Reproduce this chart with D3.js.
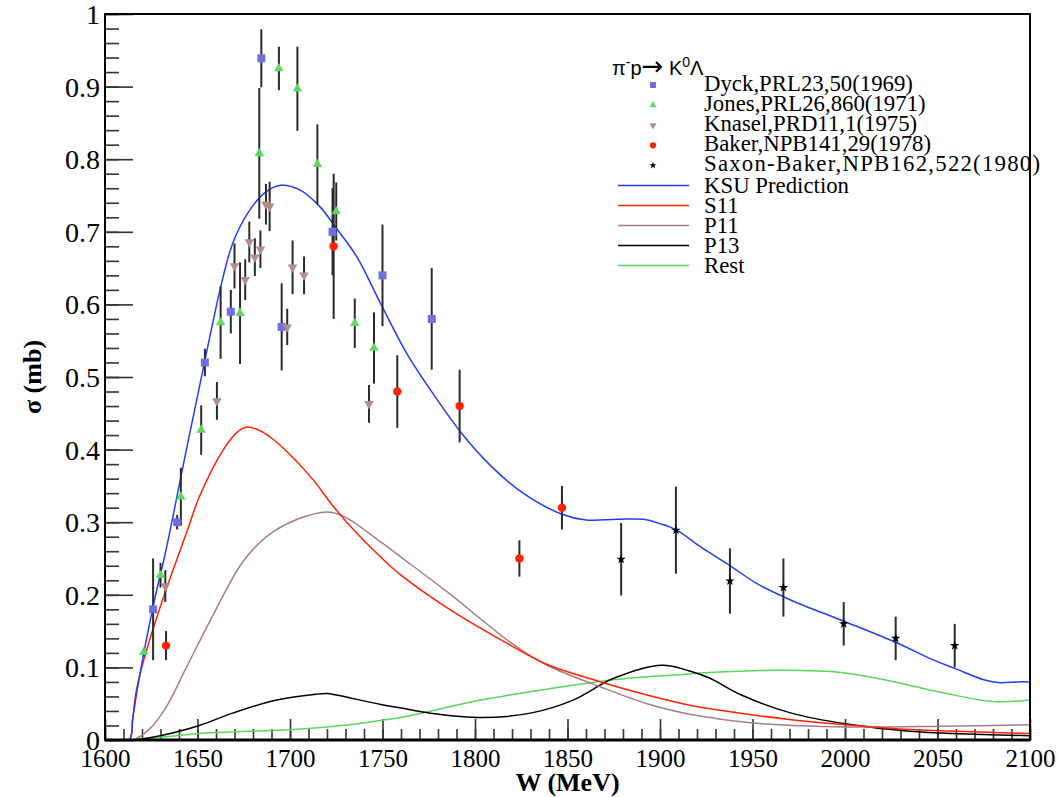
<!DOCTYPE html>
<html>
<head>
<meta charset="utf-8">
<script src="https://cdn.jsdelivr.net/npm/d3@7"></script>
<style>
  body { margin: 0; background: #fff; }
  svg text { font-family: "Liberation Serif", "Times New Roman", serif; }
</style>
</head>
<body>
<div id="chart"></div>
<script>
// data points [W (MeV), sigma (mb), error]
const dyck = [[1626,0.18,0.07],[1639,0.30,0.01],[1654,0.52,0.019],[1668,0.59,0.03],[1684.5,0.939,0.04],
  [1695.5,0.569,0.06],[1723,0.70,0.06],[1750,0.64,0.07],[1776.6,0.58,0.07]];
const jones = [[1621,0.121,0.006],[1630,0.227,0.017],[1641,0.335,0.04],[1652,0.427,0.034],[1662.5,0.575,0.05],
  [1673,0.588,0.07],[1683.4,0.808,0.09],[1694,0.925,0.03],[1704,0.897,0.058],[1714.8,0.793,0.055],
  [1725,0.728,0.04],[1735,0.574,0.034],[1745.4,0.54,0.049]];
const knasel = [[1632.6,0.212,0.022],[1660.5,0.467,0.026],[1670,0.653,0.031],[1675.8,0.634,0.028],[1678,0.686,0.028],
  [1681,0.665,0.026],[1684,0.676,0.026],[1687,0.738,0.028],[1689,0.735,0.034],[1698.5,0.569,0.025],
  [1701.4,0.651,0.037],[1707.6,0.640,0.026],[1742.7,0.463,0.026]];
const baker = [[1633,0.13,0.02],[1723.6,0.68,0.1],[1758,0.48,0.05],[1791.7,0.46,0.05],[1824,0.25,0.025],[1847,0.32,0.03]];
const saxon = [[1879,0.249,0.05],[1908.6,0.289,0.06],[1937.8,0.219,0.045],[1966.7,0.21,0.04],
  [1999.3,0.16,0.03],[2027.4,0.14,0.03],[2059.3,0.13,0.03]];

// model curves [W, sigma]
const ksu = [[1600,0],[1613,0],[1615,0.03],[1618,0.078],[1626,0.184],[1633,0.262],[1644,0.40],[1654,0.523],
  [1663,0.629],[1669,0.684],[1677,0.725],[1686,0.753],[1695,0.764],[1705,0.758],[1716,0.735],[1725,0.705],
  [1736,0.666],[1749,0.601],[1763,0.533],[1776,0.482],[1792,0.425],[1808,0.379],[1826,0.340],[1847,0.311],
  [1860,0.303],[1877,0.304],[1891,0.304],[1900,0.298],[1909,0.289],[1922,0.266],[1938,0.240],[1952,0.216],
  [1967,0.197],[1976,0.187],[1999,0.164],[2027,0.135],[2048,0.110],[2059,0.099],[2075,0.083],[2084,0.079],
  [2093,0.080],[2100,0.080]];
const s11 = [[1600,0],[1613,0],[1615,0.03],[1617,0.069],[1622.5,0.124],[1633,0.207],[1644,0.285],[1651,0.335],
  [1664,0.40],[1672,0.425],[1677,0.431],[1683,0.427],[1690,0.416],[1698,0.398],[1712,0.36],[1723,0.323],
  [1736,0.285],[1749,0.252],[1760,0.227],[1785,0.182],[1821,0.128],[1839,0.104],[1868,0.080],[1893,0.062],
  [1916,0.048],[1927,0.043],[1971,0.028],[2000,0.021],[2025,0.016],[2060,0.012],[2100,0.009]];
const p11 = [[1600,0],[1615,0],[1624,0.015],[1633,0.045],[1644,0.10],[1657,0.165],[1673,0.240],[1682,0.268],
  [1691,0.287],[1705,0.305],[1720,0.314],[1729,0.308],[1749,0.273],[1760,0.252],[1785,0.204],[1821,0.131],
  [1839,0.103],[1868,0.073],[1893,0.050],[1916,0.0355],[1927,0.031],[1952,0.023],[2001,0.018],[2053,0.019],
  [2100,0.021]];
const p13 = [[1600,0],[1615,0],[1624,0.003],[1637,0.01],[1651,0.02],[1669,0.037],[1691,0.054],[1714,0.063],
  [1720,0.064],[1725,0.062],[1749,0.049],[1760,0.044],[1776,0.037],[1804,0.031],[1830,0.037],[1853,0.055],
  [1875,0.085],[1901,0.103],[1916,0.095],[1927,0.085],[1944,0.062],[1971,0.037],[2001,0.022],[2035,0.012],
  [2100,0.006]];
const rest = [[1600,0],[1615,0],[1624,0.002],[1651,0.009],[1678,0.012],[1700,0.014],[1732,0.021],[1749,0.027],
  [1760,0.031],[1803,0.055],[1839,0.070],[1875,0.083],[1916,0.091],[1927,0.093],[1967,0.096],[1998,0.093],
  [2025,0.081],[2053,0.065],[2080,0.053],[2100,0.055]];

const xTicks = d3.range(1600, 2101, 50);
const yTicks = d3.range(0, 1.001, 0.1);

const width = 1060, height = 797;
const padL = 105, padR = 1030, padT = 14, padB = 740;

const svg = d3.select('#chart').append('svg')
  .attr('width', width).attr('height', height);

const x = d3.scaleLinear().domain([1600, 2100]).range([padL, padR]);
const y = d3.scaleLinear().domain([0, 1]).range([padB, padT]);

svg.append('clipPath').attr('id', 'plotclip')
  .append('rect').attr('x', padL).attr('y', padT).attr('width', padR - padL).attr('height', padB - padT);

// axes: minor + major ticks, drawn inward like ROOT
const xMinor = svg.append('g').attr('transform', `translate(0,${padB})`)
  .call(d3.axisBottom(x).tickValues(d3.range(1600, 2101, 10)).tickSize(-11).tickFormat(''));
const xMajor = svg.append('g').attr('transform', `translate(0,${padB})`)
  .call(d3.axisBottom(x).tickValues(xTicks).tickSize(-21).tickPadding(9).tickFormat(d3.format('d')));
const yMinor = svg.append('g').attr('transform', `translate(${padL},0)`)
  .call(d3.axisLeft(y).tickValues(d3.range(0, 1.001, 0.02)).tickSize(-14).tickFormat(''));
const yMajor = svg.append('g').attr('transform', `translate(${padL},0)`)
  .call(d3.axisLeft(y).tickValues(yTicks).tickSize(-28).tickPadding(5).tickFormat(d => String(+d.toFixed(1))));

[xMinor, xMajor, yMinor, yMajor].forEach(g => {
  g.attr('font-family', null);
  g.select('.domain').remove();
  g.selectAll('.tick line').attr('stroke', '#333').attr('stroke-width', 1.6);
});
xMajor.selectAll('.tick text').attr('font-size', 25).attr('fill', '#000');
yMajor.selectAll('.tick text').attr('font-size', 28).attr('fill', '#000').attr('dy', '0.34em');

// curves
const line = d3.line().x(d => x(d[0])).y(d => y(d[1])).curve(d3.curveCatmullRom.alpha(0.5));
const curves = [
  { data: rest, color: '#5cd65c' },
  { data: p13, color: '#000000' },
  { data: p11, color: '#a47f82' },
  { data: s11, color: '#ff2200' },
  { data: ksu, color: '#1f3ff5' }
];
const curveG = svg.append('g').attr('clip-path', 'url(#plotclip)');
curves.forEach(c => {
  curveG.append('path').attr('d', line(c.data))
    .attr('fill', 'none').attr('stroke', c.color).attr('stroke-width', 1.5);
});

// data sets with error bars
const sets = [
  { data: dyck, type: d3.symbolSquare, size: 64, color: '#6f6fe0', rot: 0 },
  { data: jones, type: d3.symbolTriangle, size: 40, color: '#5fd85f', rot: 0 },
  { data: knasel, type: d3.symbolTriangle, size: 40, color: '#b38c8c', rot: 180 },
  { data: baker, type: d3.symbolCircle, size: 56, color: '#ff2200', rot: 0 },
  { data: saxon, type: d3.symbolStar, size: 28, color: '#000000', rot: 0 }
];
const dataG = svg.append('g');
sets.forEach(s => {
  dataG.selectAll(null).data(s.data).enter().append('line')
    .attr('x1', d => x(d[0])).attr('x2', d => x(d[0]))
    .attr('y1', d => y(d[1] - d[2])).attr('y2', d => y(d[1] + d[2]))
    .attr('stroke', '#2a2a2a').attr('stroke-width', 2);
});
sets.forEach(s => {
  dataG.selectAll(null).data(s.data).enter().append('path')
    .attr('d', d3.symbol().type(s.type).size(s.size))
    .attr('transform', d => `translate(${x(d[0])},${y(d[1])}) rotate(${s.rot})`)
    .attr('fill', s.color);
});

// frame
svg.append('rect').attr('x', padL).attr('y', padT).attr('width', padR - padL).attr('height', padB - padT)
  .attr('fill', 'none').attr('stroke', '#000').attr('stroke-width', 2);
svg.append('line').attr('x1', padL).attr('x2', padR).attr('y1', padB).attr('y2', padB)
  .attr('stroke', '#000').attr('stroke-width', 3);

// axis titles
svg.append('text').attr('x', (padL + padR) / 2).attr('y', 791)
  .attr('text-anchor', 'middle').attr('font-size', 26).attr('font-weight', 'bold')
  .text('W (MeV)');
svg.append('text').attr('transform', `translate(41,${(padT + padB) / 2}) rotate(-90)`)
  .attr('text-anchor', 'middle').attr('font-size', 26).attr('font-weight', 'bold')
  .text('σ (mb)');

// legend
const legendTitle = svg.append('text').attr('x', 612).attr('y', 75)
  .style('font-family', '"Liberation Sans", Arial, sans-serif').attr('font-size', 20);
legendTitle.append('tspan').text('π');
legendTitle.append('tspan').attr('dy', -8).attr('font-size', 14).text('-');
legendTitle.append('tspan').attr('dy', 8).text('p');
legendTitle.append('tspan').attr('font-size', 26).style('font-family', '"DejaVu Sans", sans-serif').text('→');
legendTitle.append('tspan').text(' K');
legendTitle.append('tspan').attr('dy', -8).attr('font-size', 14).text('0');
legendTitle.append('tspan').attr('dy', 8).text('Λ');

const legendLabels = ['Dyck,PRL23,50(1969)', 'Jones,PRL26,860(1971)', 'Knasel,PRD11,1(1975)',
  'Baker,NPB141,29(1978)', 'Saxon-Baker,NPB162,522(1980)'];
const curveLabels = ['KSU Prediction', 'S11', 'P11', 'P13', 'Rest'];
const legendCurveColors = ['#1f3ff5', '#ff2200', '#a47f82', '#000000', '#5cd65c'];

const legend = svg.append('g');
legendLabels.forEach((lab, i) => {
  const s = sets[i];
  const cy = 85 + i * 20.1;
  legend.append('path').attr('d', d3.symbol().type(s.type).size(s.size * 0.55))
    .attr('transform', `translate(653,${cy}) rotate(${s.rot})`).attr('fill', s.color);
  const t = legend.append('text').attr('x', 704).attr('y', cy + 6).attr('font-size', 22.8).text(lab);
  // the last label is drawn wider in the original
  if (i === legendLabels.length - 1) t.attr('textLength', 336).attr('lengthAdjust', 'spacing');
});
curveLabels.forEach((lab, i) => {
  const cy = 185.5 + i * 20;
  legend.append('line').attr('x1', 618).attr('x2', 689).attr('y1', cy).attr('y2', cy)
    .attr('stroke', legendCurveColors[i]).attr('stroke-width', 1.5);
  legend.append('text').attr('x', 704).attr('y', cy + 7).attr('font-size', 22.8).text(lab);
});
</script>
</body>
</html>
